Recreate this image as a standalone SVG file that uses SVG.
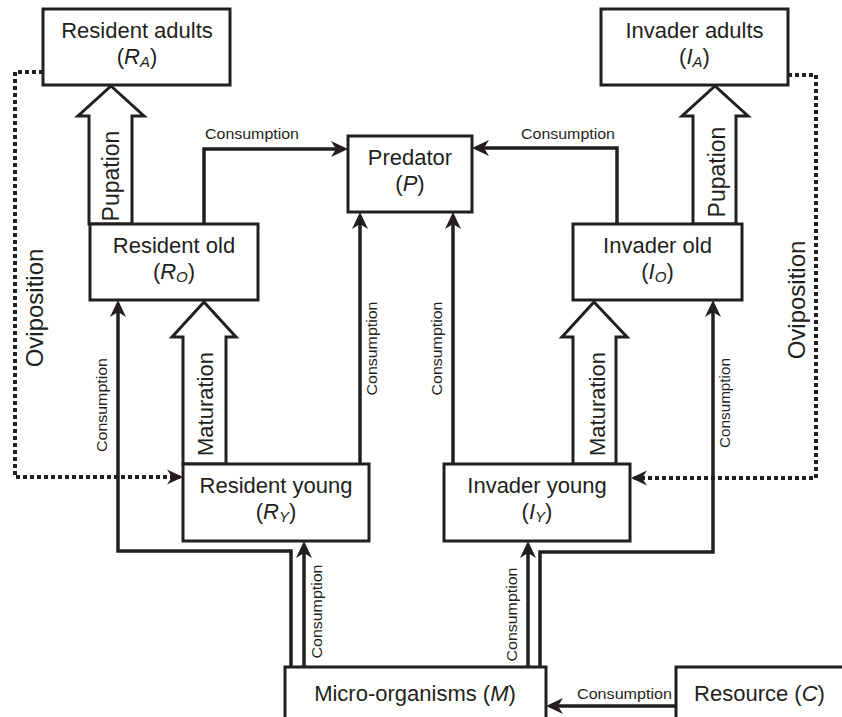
<svg xmlns="http://www.w3.org/2000/svg" width="842" height="717" viewBox="0 0 842 717">
<style>
  .box { fill: #fff; stroke: #231f20; stroke-width: 3; }
  .blk { fill: #fff; stroke: #231f20; stroke-width: 3; stroke-linejoin: miter; }
  .con { fill: none; stroke: #231f20; stroke-width: 3.5; }
  .dot { fill: none; stroke: #231f20; stroke-width: 4; stroke-dasharray: 4 3; }
  text { font-family: "Liberation Sans", Arial, Helvetica, sans-serif; fill: #231f20; }
  .lbl { font-size: 22px; text-anchor: middle; }
  .big { font-size: 24px; text-anchor: middle; }
  .mid { font-size: 23px; text-anchor: middle; }
  .sm { font-size: 14px; }
  .smc { font-size: 14px; text-anchor: middle; }
  .it { font-style: italic; }
  .sub { font-style: italic; font-size: 15px; }
</style>
<defs>
  <marker id="ah" markerUnits="userSpaceOnUse" orient="auto" refX="0" refY="0" markerWidth="30" markerHeight="30" overflow="visible">
    <path d="M4,0 L-13,-8 L-8,0 L-13,8 Z" fill="#231f20"/>
  </marker>
  <marker id="ahd" markerUnits="userSpaceOnUse" orient="auto" refX="0" refY="0" markerWidth="30" markerHeight="30" overflow="visible">
    <path d="M3,0 L-13,-7.5 L-8,0 L-13,7.5 Z" fill="#231f20"/>
  </marker>
</defs>
<rect width="842" height="717" fill="#fff"/>

<g id="connectors">
  <path class="con" d="M204,224 V149 H344" marker-end="url(#ah)"/>
  <path class="con" d="M617,224 V148 H476" marker-end="url(#ah)"/>
  <path class="con" d="M360,464 V216" marker-end="url(#ah)"/>
  <path class="con" d="M453,464 V216" marker-end="url(#ah)"/>
  <path class="con" d="M291,667 V551 H118 V304" marker-end="url(#ah)"/>
  <path class="con" d="M304,667 V545" marker-end="url(#ah)"/>
  <path class="con" d="M528,667 V545" marker-end="url(#ah)"/>
  <path class="con" d="M540,667 V552 H713 V304" marker-end="url(#ah)"/>
  <path class="con" d="M676,706 H550" marker-end="url(#ah)"/>
  <path class="dot" d="M43,72 H15 V477 H180" marker-end="url(#ahd)"/>
  <path class="dot" d="M788,75 H816 V478 H634" marker-end="url(#ahd)"/>
  <polygon id="pupation-r" class="blk" points="111,86 144,116 132,116 132,224 89,224 89,116 78,116"/>
  <polygon id="pupation-i" class="blk" points="715,86 748,116 736,116 736,224 693,224 693,116 682,116"/>
  <polygon id="maturation-r" class="blk" points="204,302 236,337 226,337 226,464 183,464 183,337 172,337"/>
  <polygon id="maturation-i" class="blk" points="594,302 627,337 616,337 616,464 573,464 573,337 562,337"/>
  <text class="mid" transform="translate(119,176) rotate(-90)">Pupation</text>
  <text class="mid" transform="translate(725,172) rotate(-90)">Pupation</text>
  <text class="lbl" transform="translate(213,404) rotate(-90)">Maturation</text>
  <text class="lbl" transform="translate(605,404) rotate(-90)">Maturation</text>
  <text class="big" transform="translate(43,308) rotate(-90)">Oviposition</text>
  <text class="big" transform="translate(805,300) rotate(-90)">Oviposition</text>
  <text class="sm" x="205" y="139" textLength="94" lengthAdjust="spacingAndGlyphs">Consumption</text>
  <text class="sm" x="521" y="139" textLength="94" lengthAdjust="spacingAndGlyphs">Consumption</text>
  <text class="sm" x="577" y="699" textLength="95" lengthAdjust="spacingAndGlyphs">Consumption</text>
  <text class="smc" transform="translate(376.5,348.5) rotate(-90)" textLength="94" lengthAdjust="spacingAndGlyphs">Consumption</text>
  <text class="smc" transform="translate(441.5,348.5) rotate(-90)" textLength="94" lengthAdjust="spacingAndGlyphs">Consumption</text>
  <text class="smc" transform="translate(106.5,405) rotate(-90)" textLength="94" lengthAdjust="spacingAndGlyphs">Consumption</text>
  <text class="smc" transform="translate(729.5,403) rotate(-90)" textLength="90" lengthAdjust="spacingAndGlyphs">Consumption</text>
  <text class="smc" transform="translate(321.5,611.5) rotate(-90)" textLength="94" lengthAdjust="spacingAndGlyphs">Consumption</text>
  <text class="smc" transform="translate(516.5,614.5) rotate(-90)" textLength="94" lengthAdjust="spacingAndGlyphs">Consumption</text>
</g>

<g id="resident-adults">
  <rect class="box" x="43" y="9" width="187" height="76"/>
  <text class="lbl" x="137" y="38">Resident adults</text>
  <text class="lbl" x="137" y="64">(<tspan class="it">R</tspan><tspan class="sub" dy="3">A</tspan><tspan dy="-3">)</tspan></text>
</g>
<g id="invader-adults">
  <rect class="box" x="601" y="9" width="187" height="76"/>
  <text class="lbl" x="694.5" y="38">Invader adults</text>
  <text class="lbl" x="694.5" y="64">(<tspan class="it">I</tspan><tspan class="sub" dy="3">A</tspan><tspan dy="-3">)</tspan></text>
</g>
<g id="resident-old">
  <rect class="box" x="90" y="224" width="168" height="76"/>
  <text class="lbl" x="174" y="253">Resident old</text>
  <text class="lbl" x="174" y="279">(<tspan class="it">R</tspan><tspan class="sub" dy="3">O</tspan><tspan dy="-3">)</tspan></text>
</g>
<g id="invader-old">
  <rect class="box" x="573" y="224" width="169" height="76"/>
  <text class="lbl" x="657.5" y="253">Invader old</text>
  <text class="lbl" x="657.5" y="279">(<tspan class="it">I</tspan><tspan class="sub" dy="3">O</tspan><tspan dy="-3">)</tspan></text>
</g>
<g id="predator">
  <rect class="box" x="348" y="136" width="124" height="76"/>
  <text class="lbl" x="410" y="165">Predator</text>
  <text class="lbl" x="410" y="191">(<tspan class="it">P</tspan>)</text>
</g>
<g id="resident-young">
  <rect class="box" x="183" y="464" width="186" height="77"/>
  <text class="lbl" x="276" y="493">Resident young</text>
  <text class="lbl" x="276" y="519">(<tspan class="it">R</tspan><tspan class="sub" dy="3">Y</tspan><tspan dy="-3">)</tspan></text>
</g>
<g id="invader-young">
  <rect class="box" x="444" y="464" width="186" height="77"/>
  <text class="lbl" x="537" y="493">Invader young</text>
  <text class="lbl" x="537" y="519">(<tspan class="it">I</tspan><tspan class="sub" dy="3">Y</tspan><tspan dy="-3">)</tspan></text>
</g>
<g id="micro-organisms">
  <rect class="box" x="285" y="667" width="261" height="70"/>
  <text class="lbl" x="415" y="701">Micro-organisms (<tspan class="it">M</tspan>)</text>
</g>
<g id="resource">
  <rect class="box" x="676" y="667" width="190" height="70"/>
  <text class="lbl" x="759.5" y="701">Resource (<tspan class="it">C</tspan>)</text>
</g>
</svg>
